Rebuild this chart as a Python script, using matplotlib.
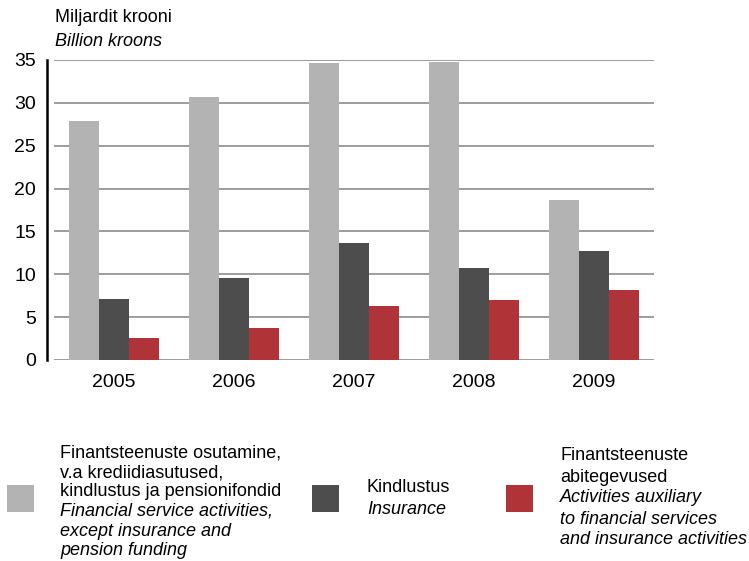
import numpy as np
import matplotlib
matplotlib.use("Agg")
import matplotlib.pyplot as plt
from matplotlib.patches import Rectangle

plt.rcParams['font.family'] = ['Liberation Sans', 'DejaVu Sans']

# data (billion kroons)
years = ['2005', '2006', '2007', '2008', '2009']
financial = [27.9, 30.7, 34.65, 34.77, 18.67]
insurance = [7.12, 9.57, 13.65, 10.73, 12.72]
auxiliary = [2.57, 3.73, 6.3, 7.0, 8.17]

colors = ['#b3b3b3', '#4d4d4d', '#b03437']
W, H = 749, 561
fs = 13

fig = plt.figure(figsize=(W / 100, H / 100), dpi=100)
ax = fig.add_axes([54 / W, 1 - 360 / H, 600 / W, 300 / H])

x = np.arange(len(years))
bw = 0.25
ax.bar(x - bw, financial, bw, color=colors[0], zorder=3)
ax.bar(x, insurance, bw, color=colors[1], zorder=3)
ax.bar(x + bw, auxiliary, bw, color=colors[2], zorder=3)

ax.set_xlim(-0.5, len(years) - 0.5)
ax.set_ylim(0, 35)
ax.set_yticks(np.arange(0, 36, 5))
ax.set_yticks([0, 35], minor=True)
ax.set_xticks(x)
ax.set_xticklabels(years)
ax.tick_params(axis='y', which='major', length=0, pad=8, labelsize=14)
ax.tick_params(axis='y', which='minor', length=5, width=1.5, color='black')
ax.tick_params(axis='x', length=0, pad=10, labelsize=14)
ax.grid(axis='y', color='#8c8c8c', linewidth=1.2, zorder=0)

for s in ['top', 'right', 'bottom']:
    ax.spines[s].set_visible(False)
ax.spines['left'].set_position(('outward', 5))
ax.spines['left'].set_linewidth(1.8)
ax.spines['left'].set_color('black')

# axis title
fig.text(55 / W, 1 - 18 / H, 'Miljardit krooni', fontsize=fs, va='center')
fig.text(55 / W, 1 - 42 / H, 'Billion kroons', fontsize=fs, style='italic', va='center')

# legend
def px(xp, yp):
    return xp / W, 1 - yp / H

def swatch(x0, c):
    fig.add_artist(Rectangle(px(x0, 512), 27 / W, 27 / H, transform=fig.transFigure,
                             color=c, lw=0))

swatch(7, colors[0])
swatch(312, colors[1])
swatch(506, colors[2])

def lines(x0, y0, items, step):
    for i, (t, it) in enumerate(items):
        fig.text(*px(x0, y0 + i * step), t, fontsize=fs, va='center',
                 style='italic' if it else 'normal')

lines(60, 453, [('Finantsteenuste osutamine,', False),
                ('v.a krediidiasutused,', False),
                ('kindlustus ja pensionifondid', False),
                ('Financial service activities,', True),
                ('except insurance and', True),
                ('pension funding', True)], 19.5)
lines(367, 488, [('Kindlustus', False), ('Insurance', True)], 21)
lines(560, 456, [('Finantsteenuste', False),
                 ('abitegevused', False),
                 ('Activities auxiliary', True),
                 ('to financial services', True),
                 ('and insurance activities', True)], 21)

fig.savefig('out.png', dpi=100)
